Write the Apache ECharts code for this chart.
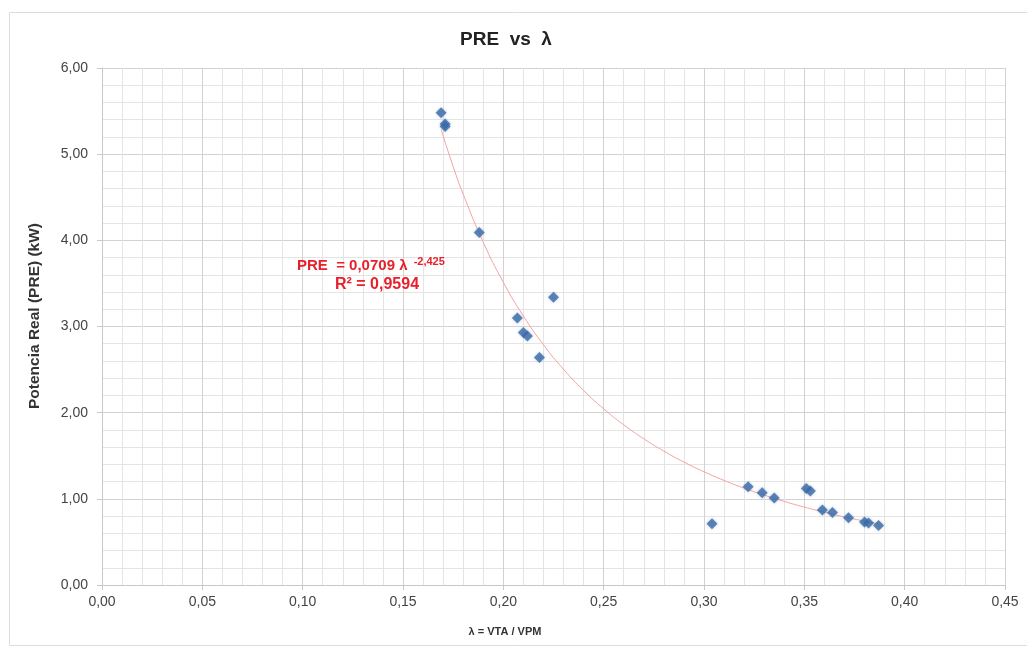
<!DOCTYPE html>
<html>
<head>
<meta charset="utf-8">
<script src="https://cdn.jsdelivr.net/npm/echarts@6/dist/echarts.min.js"></script>
<style>html,body{margin:0;padding:0;background:#fff;}#c{width:1027px;height:646px;}</style>
</head>
<body>
<div id="c"></div>
<script>
const lambdaVals = [0.169, 0.171, 0.171, 0.188, 0.207, 0.210, 0.212, 0.218, 0.225, 0.304, 0.322, 0.329, 0.335, 0.351, 0.353, 0.359, 0.364, 0.372, 0.380, 0.382, 0.387];
const preVals    = [5.48, 5.35, 5.32, 4.09, 3.10, 2.93, 2.89, 2.64, 3.34, 0.71, 1.14, 1.07, 1.01, 1.12, 1.09, 0.87, 0.84, 0.78, 0.73, 0.72, 0.69];
const trendCoef = [0.0709, -2.425];
const trendX = [0.169, 0.175, 0.18, 0.19, 0.20, 0.21, 0.22, 0.23, 0.24, 0.25, 0.26, 0.27, 0.28, 0.29, 0.30, 0.31, 0.32, 0.33, 0.34, 0.35, 0.36, 0.37, 0.38, 0.387];
const xTicks = [0, 0.05, 0.10, 0.15, 0.20, 0.25, 0.30, 0.35, 0.40, 0.45];
const yTicks = [0, 1, 2, 3, 4, 5, 6];

const scatterData = lambdaVals.map((x, i) => [x, preVals[i]]);
const trendData = trendX.map(x => [x, trendCoef[0] * Math.pow(x, trendCoef[1])]);
const fmt = v => v.toFixed(2).replace('.', ',');
const labFont = "'Liberation Sans Narrow', 'Liberation Sans', sans-serif";
const boldFont = "'Liberation Sans', Arial, sans-serif";

const chart = echarts.init(document.getElementById('c'), null, {renderer: 'canvas'});
chart.setOption({
  animation: false,
  backgroundColor: '#fff',
  grid: {left: 102, right: 22, top: 68, bottom: 61},
  xAxis: {
    type: 'value', min: 0, max: 0.45, interval: 0.05,
    axisLine: {show: true, lineStyle: {color: '#c8c8c8'}},
    axisTick: {show: true, length: 5, lineStyle: {color: '#c8c8c8'}},
    axisLabel: {formatter: fmt, fontFamily: labFont, fontSize: 14, color: '#444', margin: 10},
    splitLine: {show: true, lineStyle: {color: '#d2d2d2', width: 1}},
    minorTick: {show: false, splitNumber: 5},
    minorSplitLine: {show: true, lineStyle: {color: '#e4e4e4', width: 1}}
  },
  yAxis: {
    type: 'value', min: 0, max: 6, interval: 1,
    axisLine: {show: true, lineStyle: {color: '#c8c8c8'}},
    axisTick: {show: true, length: 5, lineStyle: {color: '#c8c8c8'}},
    axisLabel: {formatter: fmt, fontFamily: labFont, fontSize: 14, color: '#444', margin: 14},
    splitLine: {show: true, lineStyle: {color: '#d2d2d2', width: 1}},
    minorTick: {show: false, splitNumber: 5},
    minorSplitLine: {show: true, lineStyle: {color: '#e4e4e4', width: 1}}
  },
  graphic: [
    {type: 'rect', left: 7, top: 10, shape: {width: 1030, height: 633}, style: {fill: 'none', stroke: '#dcdcdc', lineWidth: 1}, silent: true, z: -1},
    {type: 'text', x: 506, y: 40, z: 100, style: {
      text: 'PRE  vs  λ', align: 'center', verticalAlign: 'middle',
      fontFamily: boldFont, fontWeight: 'bold', fontSize: 19, fill: '#222'
    }},
    {type: 'text', x: 35, y: 316, z: 100, rotation: Math.PI / 2, style: {
      text: 'Potencia Real (PRE) (kW)', align: 'center', verticalAlign: 'middle',
      fontFamily: boldFont, fontWeight: 'bold', fontSize: 15.5, fill: '#333'
    }},
    {type: 'text', x: 505, y: 632, z: 100, style: {
      text: 'λ = VTA / VPM', align: 'center', verticalAlign: 'middle',
      fontFamily: labFont, fontWeight: 'bold', fontSize: 11, fill: '#333'
    }},
    {type: 'text', left: 297, top: 256, z: 100, style: {
      text: '{a|PRE  = 0,0709 λ }{b|-2,425}',
      rich: {
        a: {fontFamily: boldFont, fontWeight: 'bold', fontSize: 15, fill: '#e8202a'},
        b: {fontFamily: boldFont, fontWeight: 'bold', fontSize: 11, fill: '#e8202a', verticalAlign: 'top', padding: [0, 0, 8, 2]}
      }
    }},
    {type: 'text', left: 335, top: 277, z: 100, style: {
      text: 'R² = 0,9594', fontFamily: boldFont, fontWeight: 'bold', fontSize: 16, fill: '#e8202a'
    }}
  ],
  series: [
    {
      type: 'line', data: trendData, smooth: true, symbol: 'none',
      lineStyle: {color: '#f4a3a3', width: 1}, z: 2
    },
    {
      type: 'scatter', data: scatterData, symbol: 'diamond', symbolSize: 11,
      itemStyle: {color: '#3a6aa8', shadowBlur: 3, shadowColor: 'rgba(58,106,168,0.4)'}, z: 3
    }
  ]
});
</script>
</body>
</html>
